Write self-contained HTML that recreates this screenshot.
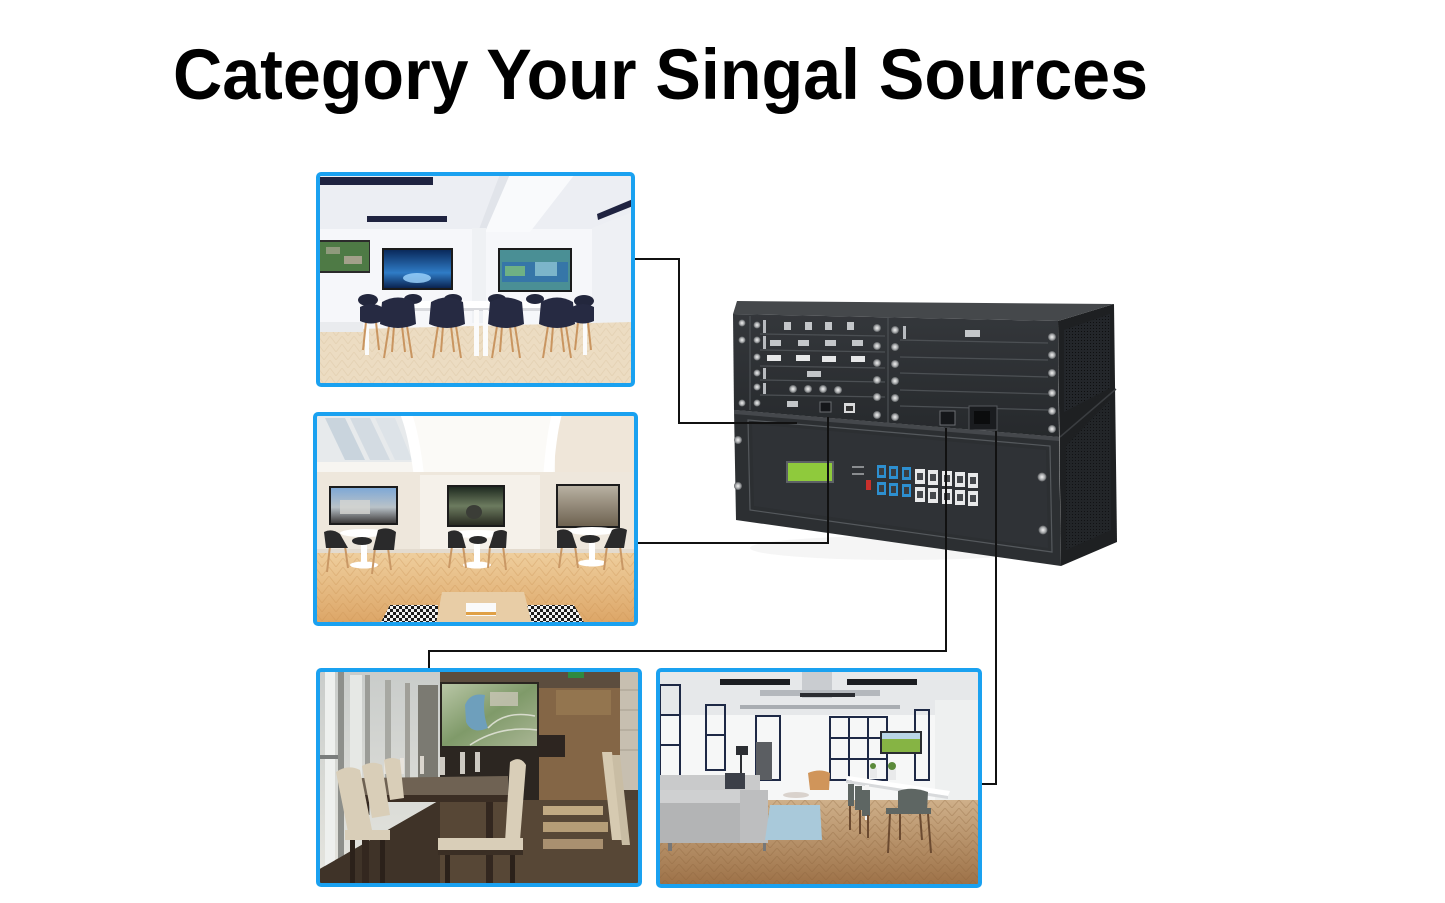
<!DOCTYPE html>
<html><head><meta charset="utf-8"><style>
html,body{margin:0;padding:0;background:#fff;}
svg{display:block;}
</style></head><body>
<svg width="1445" height="903" viewBox="0 0 1445 903" xmlns="http://www.w3.org/2000/svg">
<defs>
  <clipPath id="c1"><rect x="318" y="174" width="315" height="211" rx="3"/></clipPath>
  <clipPath id="c2"><rect x="315" y="414" width="321" height="210" rx="3"/></clipPath>
  <clipPath id="c3"><rect x="318" y="670" width="322" height="215" rx="3"/></clipPath>
  <clipPath id="c4"><rect x="658" y="670" width="322" height="216" rx="3"/></clipPath>
  <pattern id="herr1" width="12" height="8" patternUnits="userSpaceOnUse">
    <path d="M0 8 L6 0 M6 0 L12 8" stroke="#d6bf9c" stroke-width="1" fill="none" opacity="0.35"/>
  </pattern>
  <pattern id="herr2" width="14" height="9" patternUnits="userSpaceOnUse">
    <path d="M0 9 L7 0 M7 0 L14 9" stroke="#c98f50" stroke-width="1" fill="none" opacity="0.3"/>
  </pattern>
  <pattern id="herr4" width="14" height="8" patternUnits="userSpaceOnUse">
    <path d="M0 8 L7 0 M7 0 L14 8" stroke="#8a6038" stroke-width="1" fill="none" opacity="0.3"/>
  </pattern>
  <pattern id="rug" width="6" height="6" patternUnits="userSpaceOnUse">
    <rect width="6" height="6" fill="#1c1c1c"/>
    <rect x="0" y="0" width="3" height="3" fill="#f2f2f2"/>
    <rect x="3" y="3" width="3" height="3" fill="#f2f2f2"/>
  </pattern>
  <pattern id="vent" width="3" height="3" patternUnits="userSpaceOnUse">
    <rect width="3" height="3" fill="#23262a"/>
    <rect x="1" y="1" width="1" height="1" fill="#0e0f10"/>
  </pattern>
  <radialGradient id="screw"><stop offset="0" stop-color="#f2f2f2"/><stop offset="0.6" stop-color="#a9abad"/><stop offset="1" stop-color="#55585b"/></radialGradient>
  <linearGradient id="tv1" x1="0" y1="0" x2="0" y2="1"><stop offset="0" stop-color="#0a2a5c"/><stop offset="0.6" stop-color="#2f7cc6"/><stop offset="1" stop-color="#0a2350"/></linearGradient>
  <linearGradient id="tv2a" x1="0" y1="0" x2="0" y2="1"><stop offset="0" stop-color="#7fa8d6"/><stop offset="0.55" stop-color="#b9c2c8"/><stop offset="1" stop-color="#3c3a3a"/></linearGradient>
  <linearGradient id="tv2b" x1="0" y1="0" x2="0" y2="1"><stop offset="0" stop-color="#1f2a20"/><stop offset="0.5" stop-color="#6c7b5f"/><stop offset="1" stop-color="#2a2c22"/></linearGradient>
  <linearGradient id="tv2c" x1="0" y1="0" x2="0" y2="1"><stop offset="0" stop-color="#b8b1a2"/><stop offset="1" stop-color="#6e6250"/></linearGradient>
  <linearGradient id="floor2" x1="0" y1="0" x2="0" y2="1"><stop offset="0" stop-color="#efcf9e"/><stop offset="1" stop-color="#dca566"/></linearGradient>
  <linearGradient id="win3" x1="0" y1="0" x2="0" y2="1"><stop offset="0" stop-color="#c9ccca"/><stop offset="1" stop-color="#e4e4de"/></linearGradient>
  <linearGradient id="map3" x1="0" y1="0" x2="1" y2="1"><stop offset="0" stop-color="#b9c6a6"/><stop offset="0.5" stop-color="#7f9a69"/><stop offset="1" stop-color="#a9b594"/></linearGradient>
  <linearGradient id="floor4" x1="0" y1="0" x2="0" y2="1"><stop offset="0" stop-color="#cfb08a"/><stop offset="1" stop-color="#9c7046"/></linearGradient>
  <linearGradient id="front" x1="0" y1="0" x2="0" y2="1"><stop offset="0" stop-color="#34373b"/><stop offset="1" stop-color="#26292c"/></linearGradient>
</defs>

<text x="173" y="99" font-family="'Liberation Sans', Arial, sans-serif" font-weight="bold" font-size="71" fill="#000" textLength="975" lengthAdjust="spacingAndGlyphs">Category Your Singal Sources</text>

<!-- PHOTO 1 -->
<g clip-path="url(#c1)">
  <rect x="318" y="174" width="315" height="211" fill="#f6f7fa"/>
  <rect x="318" y="174" width="315" height="55" fill="#eceef3"/>
  <polygon points="500,174 575,174 530,232 480,232" fill="#f9fafc"/>
  <polygon points="500,174 510,174 485,232 478,232" fill="#e1e4ea"/>
  <polygon points="592,228 633,212 633,345 592,322" fill="#eef0f4"/>
  <rect x="472" y="228" width="14" height="95" fill="#eff1f4"/>
  <rect x="320" y="177" width="113" height="8" fill="#1f2340"/>
  <rect x="367" y="216" width="80" height="6" fill="#1f2340"/>
  <polygon points="597,214 633,199 633,206 598,220" fill="#1f2340"/>
  <polygon points="318,330 633,322 633,385 318,385" fill="#ecdcc2"/>
  <polygon points="318,330 633,322 633,385 318,385" fill="url(#herr1)"/>
  <rect x="318" y="322" width="45" height="10" fill="#e9ebee"/>
  <rect x="319" y="240" width="51" height="33" fill="#2b2b2b"/>
  <rect x="320" y="242" width="49" height="29" fill="#4e7a45"/>
  <rect x="326" y="247" width="14" height="7" fill="#8f9a7c"/><rect x="344" y="256" width="18" height="8" fill="#a3a08a"/>
  <rect x="382" y="248" width="71" height="42" fill="#1b1b1b"/>
  <rect x="384" y="250" width="67" height="38" fill="url(#tv1)"/>
  <ellipse cx="417" cy="278" rx="14" ry="5" fill="#9fd6ff" opacity="0.8"/>
  <rect x="498" y="248" width="74" height="44" fill="#1b1b1b"/>
  <rect x="500" y="250" width="70" height="40" fill="#4a8f95"/>
  <rect x="502" y="262" width="66" height="20" fill="#2e6bb0" opacity="0.7"/>
  <rect x="505" y="266" width="20" height="10" fill="#7ec07a" opacity="0.8"/><rect x="535" y="262" width="22" height="14" fill="#9ad0d8" opacity="0.7"/>
  <rect x="363" y="301" width="224" height="7" fill="#ffffff"/>
  <rect x="363" y="308" width="224" height="3" fill="#d9dade"/>
  <rect x="365" y="310" width="4" height="45" fill="#fbfbfb"/>
  <rect x="474" y="310" width="5" height="46" fill="#fbfbfb"/>
  <rect x="483" y="310" width="5" height="46" fill="#fbfbfb"/>
  <rect x="583" y="310" width="4" height="45" fill="#fbfbfb"/>
  <g fill="#23273d">
    <ellipse cx="368" cy="300" rx="10" ry="6"/><ellipse cx="413" cy="299" rx="9" ry="5"/>
    <ellipse cx="453" cy="299" rx="9" ry="5"/><ellipse cx="497" cy="299" rx="9" ry="5"/>
    <ellipse cx="535" cy="299" rx="9" ry="5"/><ellipse cx="584" cy="301" rx="10" ry="6"/>
  </g>
  <g stroke="#c99560" stroke-width="2">
    <path d="M389 326 L384 358 M407 326 L412 358 M394 326 L392 352 M402 326 L405 352"/>
    <path d="M438 326 L433 358 M456 326 L461 358 M443 326 L441 352 M451 326 L454 352"/>
    <path d="M497 326 L492 358 M515 326 L520 358 M502 326 L500 352 M510 326 L513 352"/>
    <path d="M548 326 L543 358 M566 326 L571 358 M553 326 L551 352 M561 326 L564 352"/>
    <path d="M366 322 L363 350 M376 322 L379 350 M578 322 L575 350 M588 322 L591 350"/>
  </g>
  <g fill="#262a42">
    <path d="M382 302 Q398 293 414 302 L416 324 Q398 332 380 324 Z"/>
    <path d="M431 302 Q447 293 463 302 L465 324 Q447 332 429 324 Z"/>
    <path d="M490 302 Q506 293 522 302 L524 324 Q506 332 488 324 Z"/>
    <path d="M541 302 Q557 293 573 302 L575 324 Q557 332 539 324 Z"/>
    <path d="M360 307 Q371 301 382 307 L382 321 Q371 326 360 321 Z"/>
    <path d="M572 307 Q583 301 594 307 L594 321 Q583 326 572 321 Z"/>
  </g>
</g>
<rect x="318" y="174" width="315" height="211" rx="3" fill="none" stroke="#1aa1f0" stroke-width="4"/>

<!-- PHOTO 2 -->
<g clip-path="url(#c2)">
  <rect x="315" y="414" width="321" height="210" fill="#f1ece4"/>
  <rect x="400" y="414" width="158" height="65" fill="#fbfaf7"/>
  <polygon points="315,414 405,414 420,472 315,472" fill="#e7eaec"/>
  <polygon points="325,418 345,418 365,460 345,460" fill="#c9d4dd"/>
  <polygon points="350,418 370,418 390,460 370,460" fill="#d3dbe2"/>
  <polygon points="375,418 395,418 412,460 395,460" fill="#dde3e8"/>
  <rect x="315" y="462" width="105" height="10" fill="#f7f5f1"/>
  <rect x="555" y="414" width="81" height="58" fill="#efe6d9"/>
  <path d="M400 414 Q415 450 420 552 L430 552 Q425 450 412 414 Z" fill="#ffffff"/>
  <path d="M552 414 Q542 450 540 552 L550 552 Q552 450 562 414 Z" fill="#ffffff"/>
  <rect x="315" y="472" width="321" height="80" fill="#eee7dc"/>
  <rect x="420" y="475" width="120" height="77" fill="#f5f1ea"/>
  <rect x="329" y="486" width="69" height="39" fill="#1c1c1c"/>
  <rect x="331" y="488" width="65" height="35" fill="url(#tv2a)"/>
  <rect x="340" y="500" width="30" height="14" fill="#d6d6d2" opacity="0.8"/>
  <rect x="447" y="485" width="58" height="42" fill="#1c1c1c"/>
  <rect x="449" y="487" width="54" height="38" fill="url(#tv2b)"/>
  <ellipse cx="474" cy="512" rx="8" ry="7" fill="#3b3d37"/>
  <rect x="556" y="484" width="64" height="44" fill="#1c1c1c"/>
  <rect x="558" y="486" width="60" height="40" fill="url(#tv2c)"/>
  <rect x="315" y="552" width="321" height="72" fill="url(#floor2)"/>
  <rect x="315" y="552" width="321" height="72" fill="url(#herr2)"/>
  <rect x="315" y="549" width="321" height="4" fill="#e3dbcf"/>
  <g fill="#ffffff">
    <ellipse cx="364" cy="533" rx="24" ry="4"/><rect x="361" y="535" width="6" height="28"/><ellipse cx="364" cy="565" rx="14" ry="3.5"/>
    <ellipse cx="477" cy="534" rx="24" ry="4"/><rect x="474" y="536" width="6" height="27"/><ellipse cx="477" cy="565" rx="14" ry="3.5"/>
    <ellipse cx="592" cy="531" rx="24" ry="4"/><rect x="589" y="533" width="6" height="28"/><ellipse cx="592" cy="563" rx="14" ry="3.5"/>
  </g>
  <g stroke="#c99865" stroke-width="2">
    <path d="M330 546 L327 572 M345 546 L348 568 M375 548 L372 574 M388 548 L391 570"/>
    <path d="M452 546 L449 568 M463 546 L466 568 M490 546 L488 568 M503 546 L506 570"/>
    <path d="M562 546 L559 568 M575 546 L578 568 M607 546 L604 570 M620 546 L623 570"/>
  </g>
  <g fill="#2a2a2b">
    <path d="M324 532 Q332 528 340 534 L348 548 L326 548 Z"/>
    <path d="M378 530 Q388 526 396 532 L394 550 L373 550 Z"/>
    <path d="M448 532 Q456 528 462 534 L466 548 L448 548 Z"/>
    <path d="M494 532 Q502 528 507 532 L506 548 L489 548 Z"/>
    <path d="M557 531 Q565 527 572 533 L577 548 L557 548 Z"/>
    <path d="M612 530 Q620 526 627 530 L624 548 L604 548 Z"/>
    <ellipse cx="362" cy="541" rx="10" ry="4"/><ellipse cx="478" cy="540" rx="9" ry="4"/><ellipse cx="590" cy="539" rx="10" ry="4"/>
  </g>
  <polygon points="390,605 438,605 438,624 380,624" fill="url(#rug)"/>
  <polygon points="523,605 574,605 585,624 523,624" fill="url(#rug)"/>
  <polygon points="442,592 524,592 532,624 436,624" fill="#e8cda6"/>
  <rect x="466" y="603" width="30" height="13" fill="#fafafa"/>
  <rect x="466" y="612" width="30" height="3" fill="#e0a046"/>
</g>
<rect x="315" y="414" width="321" height="210" rx="3" fill="none" stroke="#1aa1f0" stroke-width="4"/>

<!-- PHOTO 3 -->
<g clip-path="url(#c3)">
  <rect x="318" y="670" width="322" height="215" fill="#4d4033"/>
  <rect x="318" y="670" width="322" height="20" fill="#5c4d3e"/>
  <polygon points="318,670 440,670 440,800 318,870" fill="url(#win3)"/>
  <rect x="325" y="672" width="10" height="195" fill="#eef0ee"/>
  <rect x="338" y="672" width="6" height="190" fill="#8d8f8b"/>
  <rect x="350" y="675" width="12" height="160" fill="#e6e8e5"/>
  <rect x="365" y="675" width="5" height="140" fill="#9b9c97"/>
  <rect x="385" y="680" width="6" height="120" fill="#a7a8a2"/>
  <rect x="405" y="683" width="5" height="110" fill="#a09f98"/>
  <rect x="418" y="685" width="20" height="100" fill="#7b7a72"/>
  <rect x="320" y="755" width="18" height="4" fill="#7a7d7c"/>
  <rect x="440" y="682" width="99" height="66" fill="#2a2520"/>
  <rect x="442" y="684" width="95" height="62" fill="url(#map3)"/>
  <path d="M465 705 Q470 692 485 695 Q482 712 488 728 Q472 735 466 722 Z" fill="#6e9fbc"/>
  <path d="M488 728 Q505 710 535 716 M470 745 Q500 725 537 730" stroke="#d8dccd" stroke-width="1.5" fill="none"/>
  <rect x="490" y="692" width="28" height="14" fill="#c9c5b6" opacity="0.8"/>
  <rect x="440" y="748" width="99" height="57" fill="#2c2621"/>
  <rect x="539" y="688" width="82" height="112" fill="#846646"/>
  <rect x="556" y="690" width="55" height="25" fill="#93754f"/>
  <rect x="539" y="735" width="26" height="22" fill="#2d2520"/>
  <rect x="568" y="672" width="16" height="6" fill="#2f8a40"/>
  <rect x="620" y="670" width="20" height="120" fill="#c7bfb0"/>
  <path d="M620 690 H640 M620 710 H640 M620 730 H640 M620 750 H640" stroke="#a79f90" stroke-width="1"/>
  <rect x="440" y="800" width="200" height="85" fill="#574736"/>
  <polygon points="318,870 440,800 440,885 318,885" fill="#3f3328"/>
  <rect x="543" y="806" width="60" height="9" fill="#c1aa83"/>
  <rect x="543" y="822" width="65" height="10" fill="#b59d77"/>
  <rect x="543" y="839" width="60" height="10" fill="#a99070"/>
  <path d="M602 752 L612 752 L622 840 L612 840 Z" fill="#d6cab1"/>
  <path d="M612 755 L620 755 L630 845 L622 845 Z" fill="#c9bda4"/>
  <polygon points="362,778 508,776 508,795 350,795" fill="#6f6253"/>
  <polygon points="350,795 508,795 508,802 350,802" fill="#3b2e24"/>
  <rect x="362" y="802" width="7" height="83" fill="#33271f"/>
  <rect x="486" y="802" width="7" height="83" fill="#33271f"/>
  <g fill="#ebe7df" opacity="0.85">
    <rect x="384" y="760" width="4" height="14"/><rect x="400" y="758" width="4" height="16"/><rect x="420" y="756" width="4" height="18"/>
    <rect x="440" y="757" width="5" height="18"/><rect x="460" y="752" width="5" height="22"/><rect x="475" y="752" width="5" height="20"/>
  </g>
  <g fill="#d9ceb8">
    <path d="M336 772 Q348 764 360 770 L372 830 L348 832 Z"/>
    <path d="M362 766 Q372 760 382 765 L390 815 L372 818 Z"/>
    <path d="M384 760 Q392 756 400 760 L404 798 L390 800 Z"/>
    <path d="M510 762 Q520 755 526 765 L520 840 L505 842 Z"/>
    <rect x="438" y="838" width="85" height="12"/>
    <rect x="345" y="830" width="45" height="10"/>
  </g>
  <rect x="438" y="850" width="85" height="5" fill="#3a2e24"/>
  <rect x="445" y="855" width="5" height="30" fill="#2b211a"/><rect x="510" y="855" width="5" height="30" fill="#2b211a"/>
  <rect x="350" y="840" width="5" height="45" fill="#2b211a"/><rect x="380" y="840" width="5" height="45" fill="#2b211a"/>
</g>
<rect x="318" y="670" width="322" height="215" rx="3" fill="none" stroke="#1aa1f0" stroke-width="4"/>

<!-- PHOTO 4 -->
<g clip-path="url(#c4)">
  <rect x="658" y="670" width="322" height="216" fill="#f6f7f7"/>
  <rect x="658" y="670" width="322" height="45" fill="#e6e8ea"/>
  <rect x="802" y="670" width="30" height="28" fill="#c9ccd0"/>
  <rect x="760" y="690" width="120" height="6" fill="#b4b8bd"/>
  <rect x="740" y="705" width="160" height="4" fill="#a9adb2"/>
  <rect x="720" y="679" width="70" height="6" fill="#1b1d22"/>
  <rect x="847" y="679" width="70" height="6" fill="#1b1d22"/>
  <rect x="800" y="693" width="55" height="4" fill="#2a2c31"/>
  <g fill="none" stroke="#1e2946" stroke-width="2">
    <rect x="660" y="685" width="20" height="91"/>
    <path d="M660 715 H680 M660 745 H680"/>
    <rect x="706" y="705" width="19" height="65"/>
    <path d="M706 735 H725"/>
    <rect x="756" y="716" width="24" height="64"/>
    <rect x="830" y="717" width="57" height="63"/>
    <path d="M849 717 V780 M868 717 V780 M830 738 H887 M830 759 H887"/>
    <rect x="915" y="710" width="14" height="70"/>
  </g>
  <rect x="756" y="742" width="16" height="38" fill="#5b5e62"/>
  <rect x="736" y="746" width="12" height="9" fill="#2b2e33"/>
  <rect x="740" y="755" width="2" height="25" fill="#2b2e33"/>
  <rect x="880" y="731" width="42" height="23" fill="#2a2d31"/>
  <rect x="882" y="733" width="38" height="19" fill="#86b444"/>
  <rect x="882" y="733" width="38" height="6" fill="#b9d6e6"/>
  <rect x="935" y="700" width="45" height="120" fill="#eef0f0"/>
  <rect x="658" y="800" width="322" height="86" fill="url(#floor4)"/>
  <rect x="658" y="800" width="322" height="86" fill="url(#herr4)"/>
  <rect x="660" y="775" width="100" height="16" fill="#c9cacb"/>
  <rect x="725" y="773" width="20" height="16" fill="#3b3f48"/>
  <rect x="660" y="790" width="107" height="13" fill="#cfd0d1"/>
  <rect x="660" y="803" width="107" height="40" fill="#b3b4b5"/>
  <rect x="740" y="790" width="28" height="53" fill="#bdbebf"/>
  <rect x="668" y="843" width="4" height="8" fill="#777"/><rect x="763" y="843" width="3" height="8" fill="#777"/>
  <polygon points="770,805 820,805 822,840 765,840" fill="#a9c9da"/>
  <ellipse cx="796" cy="795" rx="13" ry="3" fill="#d9d2cc"/>
  <path d="M808 773 Q820 768 830 773 L829 790 L810 790 Z" fill="#d0955a"/>
  <polygon points="848,776 950,791 948,796 846,780" fill="#ffffff"/>
  <polygon points="846,780 948,796 948,799 846,783" fill="#d8dadc"/>
  <rect x="870" y="768" width="7" height="10" fill="#e9eaeb"/><circle cx="873" cy="766" r="3" fill="#5b8a3a"/>
  <rect x="888" y="768" width="8" height="12" fill="#e9eaeb"/><circle cx="892" cy="766" r="4" fill="#5b8a3a"/>
  <rect x="865" y="785" width="4" height="35" fill="#f4f4f4"/>
  <g fill="#5e6663">
    <rect x="848" y="784" width="6" height="22"/><rect x="855" y="786" width="7" height="24"/><rect x="862" y="790" width="8" height="26"/>
    <path d="M898 791 Q912 786 928 792 L927 812 L898 812 Z"/>
    <rect x="886" y="808" width="45" height="6"/>
  </g>
  <g stroke="#6b4a30" stroke-width="2">
    <path d="M890 814 L888 853 M928 814 L931 853 M900 814 L900 840 M920 814 L922 840"/>
    <path d="M850 806 L850 830 M860 810 L860 834 M868 815 L868 838"/>
  </g>
</g>
<rect x="658" y="670" width="322" height="216" rx="3" fill="none" stroke="#1aa1f0" stroke-width="4"/>

<!-- DEVICE -->
<g>
  <ellipse cx="900" cy="548" rx="150" ry="12" fill="#eeeeee" opacity="0.6"/>
  <polygon points="1058,321 1114,304 1117,542 1061,566" fill="#1e2022"/>
  <polygon points="1064,330 1110,314 1110,388 1064,412" fill="url(#vent)"/>
  <polygon points="1066,446 1110,400 1111,530 1066,550" fill="url(#vent)" opacity="0.8"/>
  <path d="M1060 437 L1116 389" stroke="#3a3d40" stroke-width="1.5"/>
  <polygon points="733,314 737,301 1114,304 1058,321" fill="#45484b"/>
  <polygon points="733,314 1058,321 1059,437 734,410" fill="url(#front)"/>
  <g stroke="#4c5054" stroke-width="1.2">
    <path d="M760 334 L885 336 M760 350 L885 352 M760 366 L885 368 M760 380 L885 382 M760 395 L885 397"/>
    <path d="M900 340 L1048 343 M900 357 L1048 360 M900 373 L1048 377 M900 390 L1048 394 M900 406 L1048 410"/>
    <path d="M888 318 L888 432 M750 316 L750 410"/>
  </g>
  <g fill="#b8bbbf">
    <rect x="763" y="320" width="3" height="13"/><rect x="763" y="336" width="3" height="13"/>
    <rect x="763" y="368" width="3" height="11"/><rect x="763" y="383" width="3" height="11"/>
    <rect x="903" y="326" width="3" height="13"/>
  </g>
  <g fill="#c3c6c9">
    <rect x="784" y="322" width="7" height="8"/><rect x="805" y="322" width="7" height="8"/><rect x="825" y="322" width="7" height="8"/><rect x="847" y="322" width="7" height="8"/>
    <rect x="770" y="340" width="11" height="6"/><rect x="798" y="340" width="11" height="6"/><rect x="825" y="340" width="11" height="6"/><rect x="852" y="340" width="11" height="6"/>
    <rect x="807" y="371" width="14" height="6"/><rect x="965" y="330" width="15" height="7"/>
    <rect x="787" y="401" width="11" height="6"/>
  </g>
  <g fill="#e6e7e8">
    <rect x="767" y="355" width="14" height="6"/><rect x="796" y="355" width="14" height="6"/><rect x="822" y="356" width="14" height="6"/><rect x="851" y="356" width="14" height="6"/>
  </g>
  <g fill="url(#screw)">
    <circle cx="793" cy="389" r="4"/><circle cx="808" cy="389" r="4"/><circle cx="823" cy="389" r="4"/><circle cx="838" cy="390" r="4"/>
  </g>
  <rect x="820" y="402" width="11" height="10" fill="#15171a" stroke="#6b6e72" stroke-width="1"/>
  <rect x="844" y="403" width="11" height="10" fill="#d9dadb"/><rect x="846" y="406" width="7" height="5" fill="#333"/>
  <rect x="940" y="411" width="15" height="14" fill="#15171a" stroke="#6b6e72" stroke-width="1"/>
  <rect x="969" y="406" width="28" height="24" fill="#1a1c1f" stroke="#55585c" stroke-width="1"/>
  <rect x="974" y="411" width="16" height="13" fill="#0b0c0d"/>
  <g fill="url(#screw)">
    <circle cx="742" cy="323" r="3.5"/><circle cx="742" cy="340" r="3.5"/><circle cx="742" cy="403" r="3.5"/>
    <circle cx="757" cy="325" r="3.5"/><circle cx="757" cy="340" r="3.5"/><circle cx="757" cy="357" r="3.5"/><circle cx="757" cy="373" r="3.5"/><circle cx="757" cy="387" r="3.5"/><circle cx="757" cy="403" r="3.5"/>
    <circle cx="877" cy="328" r="4"/><circle cx="877" cy="346" r="4"/><circle cx="877" cy="363" r="4"/><circle cx="877" cy="380" r="4"/><circle cx="877" cy="397" r="4"/><circle cx="877" cy="415" r="4"/>
    <circle cx="895" cy="330" r="4"/><circle cx="895" cy="347" r="4"/><circle cx="895" cy="364" r="4"/><circle cx="895" cy="381" r="4"/><circle cx="895" cy="398" r="4"/><circle cx="895" cy="417" r="4"/>
    <circle cx="1052" cy="337" r="4"/><circle cx="1052" cy="355" r="4"/><circle cx="1052" cy="373" r="4"/><circle cx="1052" cy="393" r="4"/><circle cx="1052" cy="411" r="4"/><circle cx="1052" cy="429" r="4"/>
  </g>
  <polygon points="734,410 1059,437 1061,566 736,520" fill="#2c2f32"/>
  <polygon points="734,410 1059,437 1059,441 734,414" fill="#45484c"/>
  <polygon points="748,420 1050,446 1052,552 750,510" fill="none" stroke="#55595d" stroke-width="1.2"/>
  <polygon points="752,424 1046,450 1048,548 754,506" fill="#2f3236"/>
  <rect x="786" y="461" width="48" height="22" fill="#5d6165"/>
  <rect x="788" y="463" width="44" height="18" fill="#8fca3c"/>
  <g fill="#8a8d90"><rect x="852" y="466" width="12" height="2"/><rect x="852" y="473" width="12" height="2"/></g>
  <rect x="866" y="480" width="5" height="10" fill="#c9302c"/>
  <g fill="#2d8fd0">
    <rect x="877" y="465" width="9" height="13"/><rect x="889" y="466" width="9" height="13"/><rect x="902" y="467" width="9" height="13"/>
    <rect x="877" y="482" width="9" height="13"/><rect x="889" y="483" width="9" height="13"/><rect x="902" y="484" width="9" height="13"/>
  </g>
  <g fill="#3a3d41">
    <rect x="879" y="468" width="5" height="7"/><rect x="891" y="469" width="5" height="7"/><rect x="904" y="470" width="5" height="7"/>
    <rect x="879" y="485" width="5" height="7"/><rect x="891" y="486" width="5" height="7"/><rect x="904" y="487" width="5" height="7"/>
  </g>
  <g fill="#e8e9ea">
    <rect x="915" y="469" width="10" height="15"/><rect x="928" y="470" width="10" height="15"/><rect x="942" y="471" width="10" height="15"/><rect x="955" y="472" width="10" height="15"/><rect x="968" y="473" width="10" height="15"/>
    <rect x="915" y="487" width="10" height="15"/><rect x="928" y="488" width="10" height="15"/><rect x="942" y="489" width="10" height="15"/><rect x="955" y="490" width="10" height="15"/><rect x="968" y="491" width="10" height="15"/>
  </g>
  <g fill="#45484c">
    <rect x="917" y="473" width="6" height="7"/><rect x="930" y="474" width="6" height="7"/><rect x="944" y="475" width="6" height="7"/><rect x="957" y="476" width="6" height="7"/><rect x="970" y="477" width="6" height="7"/>
    <rect x="917" y="491" width="6" height="7"/><rect x="930" y="492" width="6" height="7"/><rect x="944" y="493" width="6" height="7"/><rect x="957" y="494" width="6" height="7"/><rect x="970" y="495" width="6" height="7"/>
  </g>
  <g fill="url(#screw)">
    <circle cx="738" cy="440" r="4"/><circle cx="738" cy="486" r="4"/>
    <circle cx="1042" cy="477" r="4.5"/><circle cx="1043" cy="530" r="4.5"/>
  </g>
</g>

<g fill="none" stroke="#111" stroke-width="2">
  <polyline points="635,259 679,259 679,423 797,423"/>
  <polyline points="638,543 828,543 828,417"/>
  <polyline points="429,668 429,651 946,651 946,428"/>
  <polyline points="982,784 996,784 996,431"/>
</g>
</svg>
</body></html>
